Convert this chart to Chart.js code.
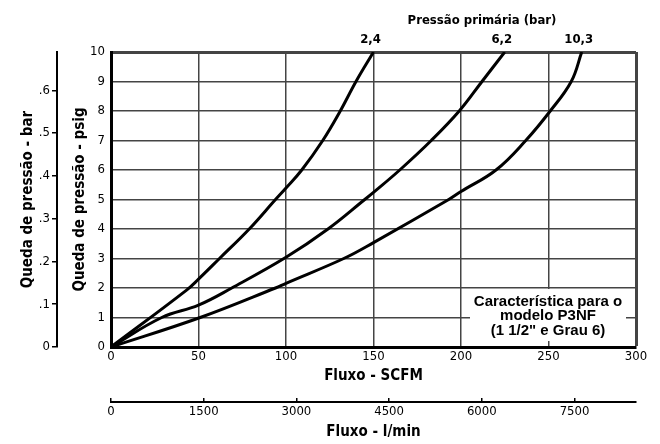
<!DOCTYPE html>
<html>
<head>
<meta charset="utf-8">
<script src="https://cdn.jsdelivr.net/npm/chart.js@4.4.1/dist/chart.umd.min.js"></script>
<style>
  html, body { margin: 0; padding: 0; background: #fff; }
</style>
</head>
<body>
<canvas id="flowChart" width="660" height="444"></canvas>
<script>
// curves: flow in SCFM, pressure drop in psig
const pressureLabels = ["2,4", "6,2", "10,3"];
const flow24 = [0, 43, 50, 62, 79, 94, 100, 109, 121, 131, 140, 150];
const drop24 = [0, 1.92, 2.3, 3, 4, 5, 5.39, 6, 7, 8, 9, 10];
const flow62 = [0, 29, 50, 69, 100, 124, 145, 150, 165, 183, 199, 212, 225];
const drop62 = [0, 1, 1.42, 2, 3.04, 4, 5, 5.24, 6, 7, 8, 9, 10];
const flow103 = [0, 51, 94, 100, 133, 150, 193, 200, 220, 237, 251, 263, 269];
const drop103 = [0, 1, 2, 2.16, 3, 3.54, 5, 5.27, 6, 7, 8, 9, 10];

// secondary axes
const lminTicks = [0, 1500, 3000, 4500, 6000, 7500];
const barTicks = [0, 0.1, 0.2, 0.3, 0.4, 0.5, 0.6];
const noteLines = ["Característica para o", "modelo P3NF", "(1 1/2\" e Grau 6)"];

const PSI_TO_BAR = 0.0689476;
const SCFM_TO_LMIN = 28.3168;

const NARROW = "'DejaVu Sans Condensed', 'Liberation Sans Narrow', sans-serif";
const WIDE = "'Liberation Sans', Arial, sans-serif";

function toPoints(xs, ys) {
  return xs.map((x, i) => ({ x: x, y: ys[i] }));
}

function curve(label, xs, ys) {
  return {
    label: label,
    data: toPoints(xs, ys),
    showLine: true,
    borderColor: "#000",
    backgroundColor: "#000",
    borderWidth: 3,
    pointRadius: 0,
    tension: 0.4,
    fill: false,
  };
}

function fixedTicks(values) {
  return (scale) => {
    scale.ticks = values.map((v) => ({ value: v }));
  };
}

const gridColor = "#444";
const titleFont = { family: NARROW, size: 15, weight: "bold" };
const tickFont = { family: NARROW, size: 13 };

const textPlugin = {
  id: "chartTexts",
  beforeDatasetsDraw(chart) {
    // white note box in the lower right corner
    const { ctx, chartArea } = chart;
    const left = chartArea.right - 166;
    const top = chartArea.bottom - 58;
    ctx.save();
    ctx.fillStyle = "#fff";
    ctx.fillRect(left, top, 156, 52);
    ctx.fillStyle = "#000";
    ctx.font = "bold 15px " + WIDE;
    ctx.textAlign = "center";
    ctx.textBaseline = "middle";
    noteLines.forEach((line, i) => {
      ctx.fillText(line, left + 78, top + 13 + i * 14.2);
    });
    ctx.restore();
  },
  afterDatasetsDraw(chart) {
    const { ctx, chartArea } = chart;
    const xs = chart.scales.x;
    ctx.save();
    ctx.fillStyle = "#000";
    ctx.font = "bold 13px " + NARROW;
    ctx.textAlign = "center";
    ctx.textBaseline = "middle";
    chart.data.datasets.forEach((ds) => {
      const last = ds.data[ds.data.length - 1];
      ctx.fillText(ds.label, xs.getPixelForValue(last.x) - 3, chartArea.top - 12);
    });
    ctx.fillText("Pressão primária (bar)", xs.getPixelForValue(212), 20.5);
    ctx.restore();
  },
};

new Chart(document.getElementById("flowChart"), {
  type: "scatter",
  data: {
    datasets: [
      curve(pressureLabels[0], flow24, drop24),
      curve(pressureLabels[1], flow62, drop62),
      curve(pressureLabels[2], flow103, drop103),
    ],
  },
  options: {
    responsive: false,
    animation: false,
    devicePixelRatio: 1,
    layout: { padding: { left: 0, top: 52, right: 24, bottom: 0 } },
    plugins: {
      legend: { display: false },
      tooltip: { enabled: false },
    },
    scales: {
      x: {
        type: "linear",
        position: "bottom",
        min: 0,
        max: 300,
        weight: 0,
        afterFit: (s) => { s.height = 55; },
        ticks: { stepSize: 50, color: "#000", padding: 2, font: tickFont },
        grid: {
          color: gridColor,
          lineWidth: (c) => (c.tick && c.tick.value === 300 ? 3 : 1.5),
          drawTicks: false,
        },
        border: { display: true, width: 3, color: "#000" },
        title: {
          display: true,
          text: "Fluxo - SCFM",
          color: "#000",
          font: titleFont,
          padding: { top: 0, bottom: 17 },
        },
      },
      x2: {
        type: "linear",
        position: "bottom",
        min: 0,
        max: 300 * SCFM_TO_LMIN,
        weight: 1,
        afterFit: (s) => { s.height = 42; },
        afterBuildTicks: fixedTicks(lminTicks),
        ticks: {
          color: "#000",
          padding: 6,
          font: tickFont,
          callback: (v) => String(v),
        },
        grid: {
          drawOnChartArea: false,
          color: "#000",
          lineWidth: 1.5,
          tickLength: -4,
        },
        border: { display: true, width: 2, color: "#000" },
        title: {
          display: true,
          text: "Fluxo - l/min",
          color: "#000",
          font: titleFont,
          padding: { top: 0, bottom: 3 },
        },
      },
      y: {
        type: "linear",
        position: "left",
        min: 0,
        max: 10,
        weight: 0,
        afterFit: (s) => { s.width = 54; },
        ticks: { stepSize: 1, color: "#000", padding: 6, font: tickFont },
        grid: {
          color: gridColor,
          lineWidth: (c) => (c.tick && c.tick.value === 10 ? 3 : 1.5),
          drawTicks: false,
        },
        border: { display: true, width: 3, color: "#000" },
        title: {
          display: true,
          text: "Queda de pressão - psig",
          color: "#000",
          font: titleFont,
          padding: { top: 14, bottom: 0 },
        },
      },
      y2: {
        type: "linear",
        position: "left",
        min: 0,
        max: 10 * PSI_TO_BAR,
        weight: 1,
        afterFit: (s) => { s.width = 57; },
        afterBuildTicks: fixedTicks(barTicks),
        ticks: {
          color: "#000",
          padding: 2,
          font: tickFont,
          callback: (v) => (v === 0 ? "0" : "." + Math.round(v * 10)),
        },
        grid: {
          drawOnChartArea: false,
          color: "#000",
          lineWidth: 1.5,
          tickLength: 5,
        },
        border: { display: true, width: 2, color: "#000" },
        title: {
          display: true,
          text: "Queda de pressão - bar",
          color: "#000",
          font: titleFont,
          padding: { top: 19, bottom: 0 },
        },
      },
    },
  },
  plugins: [textPlugin],
});
</script>
</body>
</html>
